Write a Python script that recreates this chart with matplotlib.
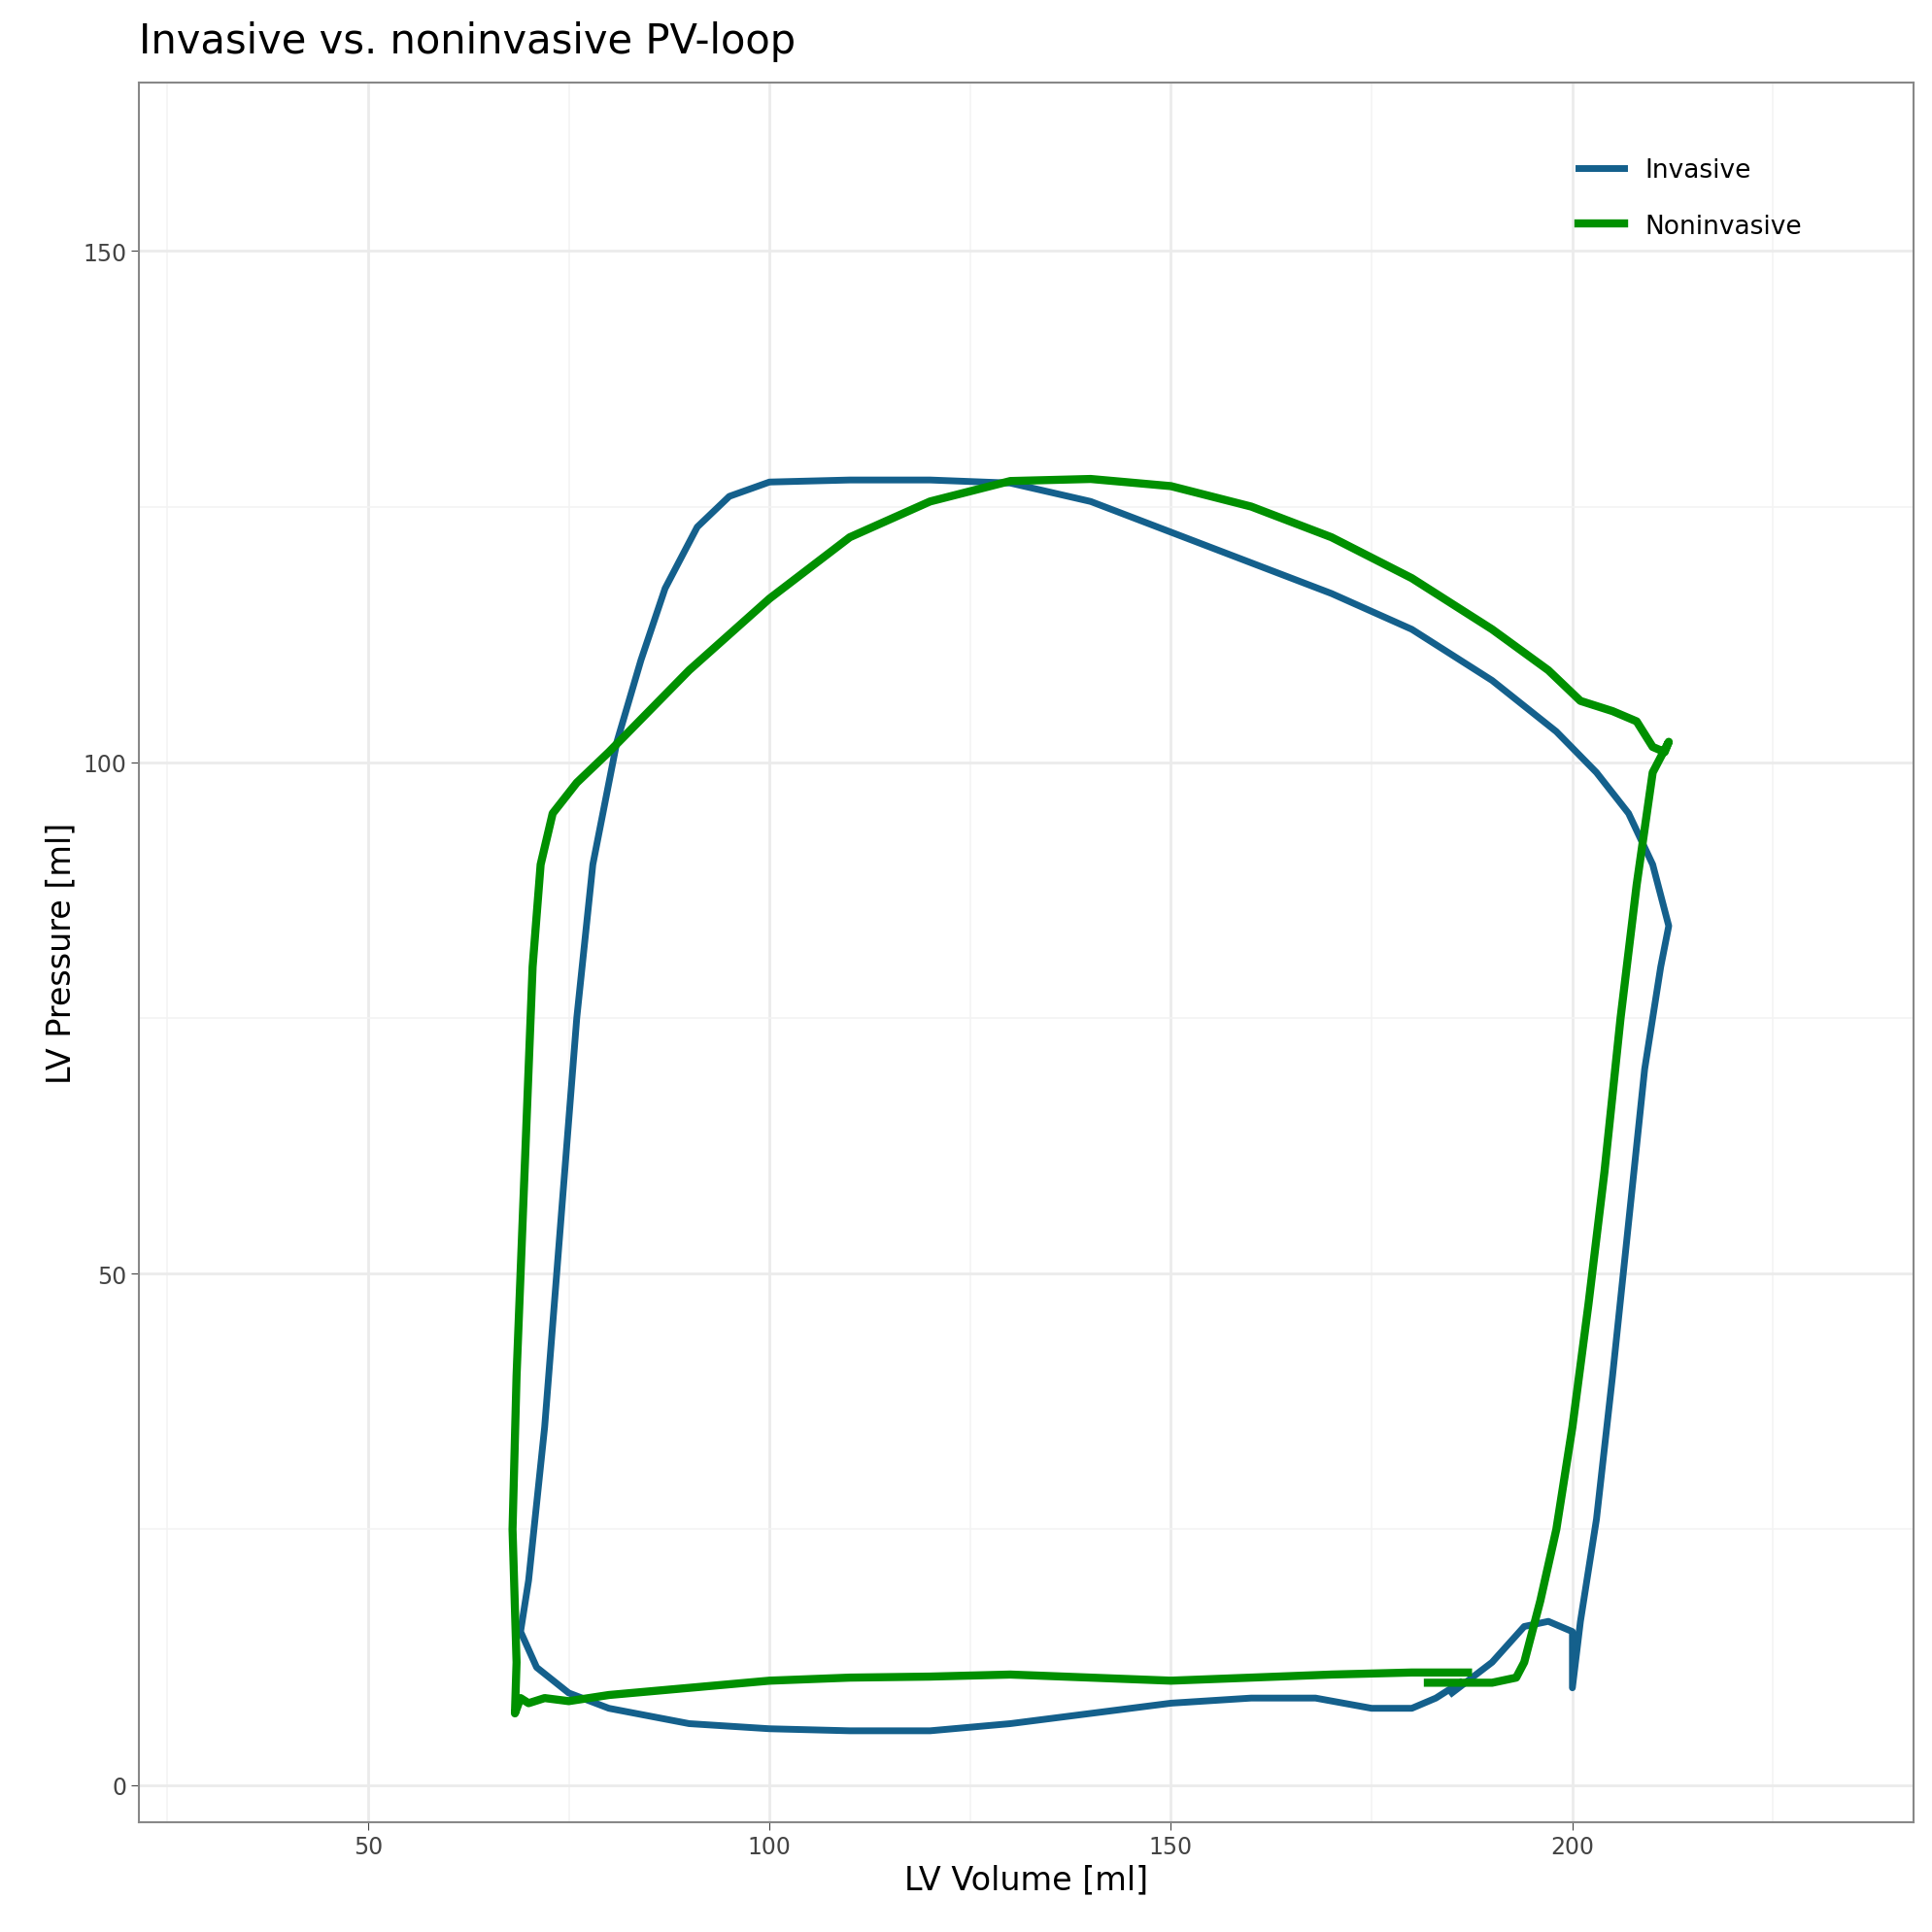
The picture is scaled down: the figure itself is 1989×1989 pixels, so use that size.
import numpy as np
import matplotlib.pyplot as plt

# invasive PV loop (volume ml, pressure)
inv_vol = [185, 190, 194, 197, 200, 200, 201, 203, 205, 207, 209, 211, 212, 210, 207, 203, 198, 190, 180,
           170, 160, 150, 140, 130, 120, 110, 100, 95, 91, 87, 84, 81, 78, 76, 74, 72, 70, 69, 71, 75,
           80, 90, 100, 110, 120, 130, 140, 150, 160, 168, 175, 180, 183, 186]
inv_p = [9, 12, 15.5, 16, 15, 9.5, 16, 26, 40, 55, 70, 80, 84, 90, 95, 99, 103, 108, 113,
         116.5, 119.5, 122.5, 125.5, 127.3, 127.6, 127.6, 127.4, 126, 123, 117, 110, 102, 90, 75, 55, 35, 20, 15, 11.5, 9,
         7.5, 6, 5.5, 5.3, 5.3, 6, 7, 8, 8.5, 8.5, 7.5, 7.5, 8.5, 10]

# noninvasive PV loop
non_vol = [182, 187, 190, 193, 194, 195, 196, 198, 200, 202, 204, 206, 208, 210, 212, 211.5, 210, 208, 205,
           201, 197, 190, 180, 170, 160, 150, 140, 130, 120, 110, 100, 90, 80, 76, 73, 71.5, 70.5, 69.5,
           68.5, 68, 68.5, 68.3, 69, 70, 72, 75, 80, 90, 100, 110, 120, 130, 140, 150, 160, 170, 180, 187]
non_p = [10, 10, 10, 10.5, 12, 15, 18, 25, 35, 47, 60, 75, 88, 99, 102, 101, 101.5, 104, 105,
         106, 109, 113, 118, 122, 125, 127, 127.7, 127.5, 125.5, 122, 116, 109, 101, 98, 95, 90, 80, 60,
         40, 25, 12, 7, 8.5, 8, 8.5, 8.2, 8.8, 9.5, 10.2, 10.5, 10.6, 10.8, 10.5, 10.2, 10.5, 10.8, 11, 11]

fig, ax = plt.subplots(figsize=(19.9, 19.9), dpi=100)
fig.subplots_adjust(left=0.072, right=0.99, bottom=0.057, top=0.957)

ax.plot(inv_vol, inv_p, color='#14608c', lw=5, label='Invasive', solid_joinstyle='round')
ax.plot(non_vol, non_p, color='#009000', lw=6, label='Noninvasive', solid_joinstyle='round')

ax.set_xlim(21.5, 242.5)
ax.set_ylim(-3.6, 166.5)
ax.set_xticks([50, 100, 150, 200])
ax.set_yticks([0, 50, 100, 150])
ax.set_xticks([25, 75, 125, 175, 225], minor=True)
ax.set_yticks([25, 75, 125], minor=True)
ax.grid(True, which='major', color='#ebebeb', lw=2)
ax.grid(True, which='minor', color='#f3f3f3', lw=1.2)
ax.set_axisbelow(True)
for s in ax.spines.values():
    s.set_color('#888888')
    s.set_linewidth(1.5)
ax.tick_params(which='major', labelsize=17, colors='#444444', length=6)
ax.tick_params(which='minor', length=0)
ax.set_xlabel('LV Volume [ml]', fontsize=24)
ax.set_ylabel('LV Pressure [ml]', fontsize=24)
ax.set_title('Invasive vs. noninvasive PV-loop', fontsize=30, loc='left', pad=22)
ax.legend(loc='upper right', bbox_to_anchor=(0.95, 0.97), frameon=False, fontsize=19,
          handlelength=1.8, labelspacing=1.2)

fig.savefig('out.png')
